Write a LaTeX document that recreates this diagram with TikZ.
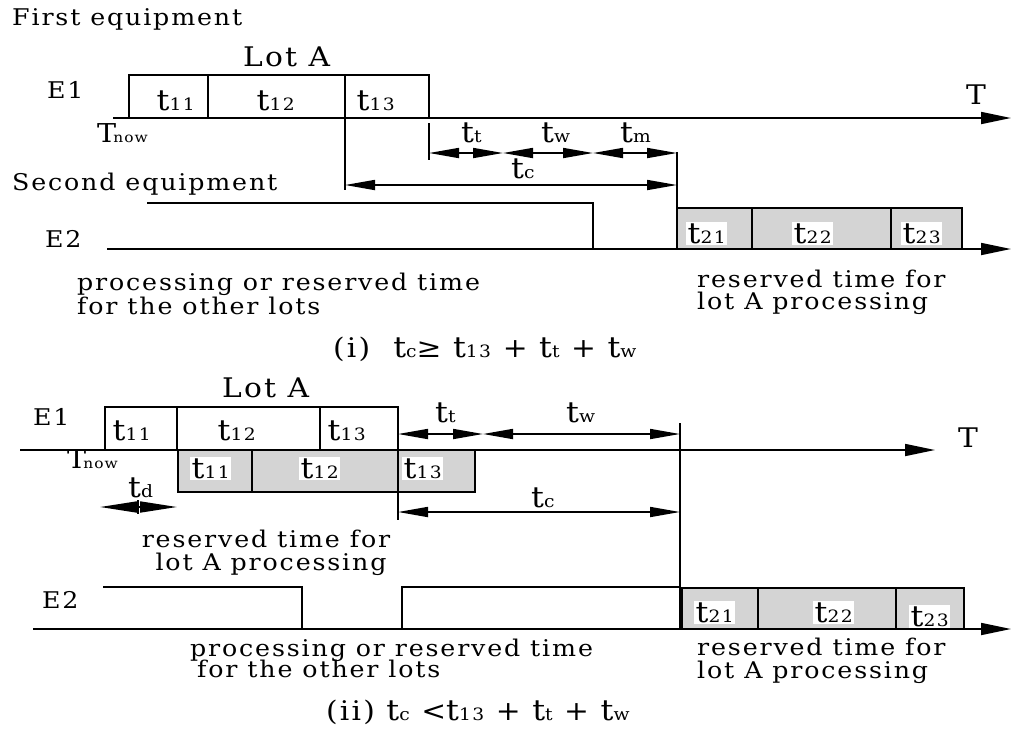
\documentclass[tikz,border=0pt]{standalone}
\usepackage{fontspec}
\setmainfont{DejaVu Serif}[FakeStretch=1.1,LetterSpace=8]
\usetikzlibrary{arrows.meta}
\newcommand{\tv}[1]{{\fontsize{29}{29}\selectfont t}{\fontsize{17}{17}\selectfont #1}}
\newcommand{\bodyfont}{\fontsize{23}{25}\selectfont}
\newcommand{\lotfont}{\fontsize{27}{29}\selectfont}
\newcommand{\Tnow}{{\fontsize{26}{26}\selectfont T}\kern-3pt{\fontsize{14}{14}\selectfont now}}
\begin{document}
\begin{tikzpicture}[x=1pt,y=-1pt,
  ln/.style={line width=1.7pt},
  txt/.style={anchor=base west,inner sep=0pt,font=\bodyfont},
  ctxt/.style={anchor=base,inner sep=0pt,font=\bodyfont},
  lab/.style={anchor=base west,inner sep=1.5pt,fill=white},
  dimarr/.style={ln,{Triangle[length=30pt,width=10pt]}-{Triangle[length=30pt,width=10pt]}},
  tdarr/.style={ln,{Triangle[length=37pt,width=11pt]}-{Triangle[length=37pt,width=11pt]}},
  axisarr/.style={ln,-{Triangle[length=30pt,width=12pt]}},
  shadebox/.style={ln,draw,fill=black!17}]
\useasboundingbox (0,0) rectangle (1013,748);

% ================= (i) =================
\node[txt] (first) at (12,25) {First equipment};
\node[txt,font=\lotfont] (lotA1) at (243,66) {Lot A};
\node[txt] (E1a) at (47,98) {E1};
\node[txt] (Tnow1) at (97,142) {\Tnow};
% E1 boxes
\draw[ln] (129,118) rectangle (429,75);
\draw[ln] (208,75) -- (208,118);
\draw[ln] (345,75) -- (345,190);
\node[lab] (t11a) at (155,110) {\tv{11}};
\node[lab] (t12a) at (255,110) {\tv{12}};
\node[lab] (t13a) at (355,110) {\tv{13}};
% axis E1
\draw[axisarr] (113,118) -- (1011,118);
\node[txt,font=\lotfont] (T1) at (966,104) {T};
% dimensions
\draw[ln] (429,123) -- (429,160);
\draw[dimarr] (429,153) -- (503,153);
\draw[dimarr] (503,153) -- (593,153);
\draw[dimarr] (593,153) -- (677,153);
\node[txt] (tt1) at (461,142) {\tv{t}};
\node[txt] (tw1) at (541,142) {\tv{w}};
\node[txt] (tm1) at (620,142) {\tv{m}};
\draw[ln] (677,152) -- (677,249);
\draw[dimarr] (345,185) -- (677,185);
\node[txt] (tc1) at (511,178) {\tv{c}};
\node[txt] (second) at (12,190) {Second equipment};
% E2
\node[txt] (E2a) at (45,247) {E2};
\draw[ln] (147,203) -- (593,203) -- (593,249);
\draw[axisarr] (107,249) -- (1011,249);
\draw[shadebox] (677,249) rectangle (962,208);
\draw[ln] (752,208) -- (752,249);
\draw[ln] (891,208) -- (891,249);
\node[lab] (t21a) at (686,243) {\tv{21}};
\node[lab] (t22a) at (792,243) {\tv{22}};
\node[lab] (t23a) at (901,243) {\tv{23}};
\node[txt] (oth1a) at (77,290) {processing or reserved time};
\node[txt] (oth1b) at (77,314) {for the other lots};
\node[txt] (res1a) at (697,287) {reserved time for};
\node[txt] (res1b) at (697,309) {lot A processing};
\node[txt,font=\lotfont] (cap1) at (333,357) {(i)\ \ \tv{c}≥ \tv{13} + \tv{t} + \tv{w}};

% ================= (ii) =================
\node[txt,font=\lotfont] (lotA2) at (222,397) {Lot A};
\node[txt] (E1b) at (33,425) {E1};
\draw[ln] (105,450) rectangle (398,407);
\draw[ln] (177,407) -- (177,450);
\draw[ln] (320,407) -- (320,450);
\node[lab] (t11b) at (111,440) {\tv{11}};
\node[lab] (t12b) at (216,440) {\tv{12}};
\node[lab] (t13b) at (326,440) {\tv{13}};
\draw[shadebox] (178,492) rectangle (475,450);
\draw[ln] (252,450) -- (252,492);
\node[lab] (t11c) at (190,478) {\tv{11}};
\node[lab] (t12c) at (299,478) {\tv{12}};
\node[lab] (t13c) at (402,478) {\tv{13}};
\draw[ln] (398,407) -- (398,520);
\draw[axisarr] (20,450) -- (935,450);
\node[txt,font=\lotfont] (T2) at (958,447) {T};
\node[txt] (Tnow2) at (67,468) {\Tnow};
\draw[tdarr] (100,507) -- (177,507);
\draw[ln] (138,500) -- (138,514);
\node[txt] (td) at (128,497) {\tv{d}};
\draw[dimarr] (398,434) -- (483,434);
\draw[dimarr] (483,434) -- (680,434);
\node[txt] (tt2) at (435,422) {\tv{t}};
\node[txt] (tw2) at (566,422) {\tv{w}};
\draw[ln] (680,423) -- (680,629);
\draw[dimarr] (398,512) -- (680,512);
\node[txt] (tc2) at (531,507) {\tv{c}};
\node[ctxt] (res2a) at (266,547) {reserved time for};
\node[ctxt] (res2b) at (271,570) {lot A processing};
% E2
\node[txt] (E2b) at (42,608) {E2};
\draw[ln] (103,587) -- (302,587) -- (302,629);
\draw[ln] (402,629) -- (402,587) -- (680,587);
\draw[axisarr] (33,629) -- (1011,629);
\draw[shadebox] (682,629) rectangle (964,588);
\draw[ln] (758,588) -- (758,629);
\draw[ln] (896,588) -- (896,629);
\node[lab] (t21b) at (694,622) {\tv{21}};
\node[lab] (t22b) at (813,622) {\tv{22}};
\node[lab] (t23b) at (909,626) {\tv{23}};
\node[txt] (oth2a) at (190,656) {processing or reserved time};
\node[txt] (oth2b) at (197,677) {for the other lots};
\node[txt] (res2c) at (697,655) {reserved time for};
\node[txt] (res2d) at (697,678) {lot A processing};
\node[txt,font=\lotfont] (cap2) at (326,720) {(ii) \tv{c} <\tv{13} + \tv{t} + \tv{w}};
\end{tikzpicture}
\end{document}
